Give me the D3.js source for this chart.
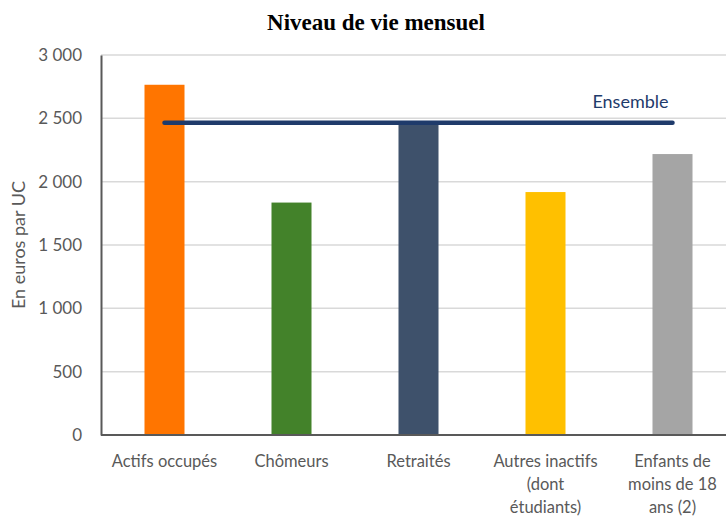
<!DOCTYPE html>
<html>
<head>
<meta charset="utf-8">
<script src="https://cdn.jsdelivr.net/npm/d3@7"></script>
<style>
  body { margin: 0; background: #fff; }
  svg { display: block; }
</style>
</head>
<body>
<div id="chart"></div>
<script>
// data
const categories = ["Actifs occupés", "Chômeurs", "Retraités", "Autres inactifs (dont étudiants)", "Enfants de moins de 18 ans (2)"]
const labelLines = [["Actifs occupés"], ["Chômeurs"], ["Retraités"], ["Autres inactifs", "(dont", "étudiants)"], ["Enfants de", "moins de 18", "ans (2)"]]
const values = [2765, 1835, 2470, 1918, 2218]
const ensemble = 2465
const barColors = ["#ff7500", "#43822a", "#3e516b", "#ffc000", "#a5a5a5"]
const yTicks = [0, 500, 1000, 1500, 2000, 2500, 3000]

const width = 726
const height = 517
const margin = { top: 55, right: -10, bottom: 82, left: 101 }
const font = "Lato, 'Open Sans', sans-serif"

const svg = d3.select("#chart")
  .append("svg")
    .attr("width", width)
    .attr("height", height)

const x = d3.scaleBand()
  .domain(categories)
  .range([margin.left, width - margin.right])
  .paddingInner(0.685)
  .paddingOuter(0.3425)

const y = d3.scaleLinear()
  .domain([0, 3000])
  .range([height - margin.bottom, margin.top])

const fmt = v => d3.format(",")(v).replace(",", "\u00a0")

// gridlines
svg.append("g")
  .selectAll("line")
  .data(yTicks.filter(d => d > 0))
  .join("line")
    .attr("x1", margin.left)
    .attr("x2", width)
    .attr("y1", d => y(d))
    .attr("y2", d => y(d))
    .attr("stroke", "#d9d9d9")
    .attr("stroke-width", 1.5)

// bars
svg.append("g")
  .selectAll("rect")
  .data(values)
  .join("rect")
    .attr("x", (d, i) => x(categories[i]))
    .attr("y", d => y(d))
    .attr("width", x.bandwidth())
    .attr("height", d => y(0) - y(d))
    .attr("fill", (d, i) => barColors[i])

// ensemble line
const lineData = [categories[0], categories[categories.length - 1]]
svg.append("path")
  .datum(lineData)
  .attr("d", d3.line()
    .x(d => x(d) + x.bandwidth() / 2)
    .y(() => y(ensemble)))
  .attr("fill", "none")
  .attr("stroke", "#1f3b6b")
  .attr("stroke-width", 4.5)
  .attr("stroke-linecap", "round")

svg.append("text")
  .attr("x", x(categories[4]) + x.bandwidth() / 2 - 42)
  .attr("y", y(ensemble) - 15)
  .attr("text-anchor", "middle")
  .attr("fill", "#1f3b6b")
  .style("font-family", font)
  .style("font-size", "18px")
  .text("Ensemble")

// y axis
const yAxis = svg.append("g")
  .attr("transform", `translate(${margin.left},0)`)
  .call(d3.axisLeft(y).tickValues(yTicks).tickSize(0).tickPadding(19).tickFormat(fmt))
yAxis.select(".domain").attr("stroke", "#595959").attr("stroke-width", 2)
yAxis.selectAll("text")
  .attr("fill", "#595959")
  .style("font-family", font)
  .style("font-size", "17px")

// x axis
const xAxis = svg.append("g")
  .attr("transform", `translate(0,${y(0)})`)
  .call(d3.axisBottom(x).tickSize(0).tickFormat(""))
xAxis.select(".domain")
  .attr("d", `M${margin.left},0H${width}`)
  .attr("stroke", "#595959")
  .attr("stroke-width", 2)

svg.append("g")
  .selectAll("text")
  .data(categories)
  .join("text")
    .attr("x", d => x(d) + x.bandwidth() / 2)
    .attr("y", y(0) + 32)
    .attr("text-anchor", "middle")
    .attr("fill", "#595959")
    .style("font-family", font)
    .style("font-size", "16.5px")
    .each(function(d, i) {
      d3.select(this).selectAll("tspan")
        .data(labelLines[i])
        .join("tspan")
          .attr("x", x(d) + x.bandwidth() / 2)
          .attr("dy", (t, j) => j === 0 ? 0 : 23)
          .text(t => t)
    })

// y title
svg.append("text")
  .attr("transform", `translate(25,${(y(0) + y(3000)) / 2}) rotate(-90)`)
  .attr("text-anchor", "middle")
  .attr("fill", "#595959")
  .style("font-family", font)
  .style("font-size", "18px")
  .text("En euros par UC")

// title
svg.append("text")
  .attr("x", 376)
  .attr("y", 30)
  .attr("text-anchor", "middle")
  .attr("fill", "#000")
  .style("font-family", "'Liberation Serif', serif")
  .style("font-weight", "bold")
  .style("font-size", "23px")
  .text("Niveau de vie mensuel")
</script>
</body>
</html>
